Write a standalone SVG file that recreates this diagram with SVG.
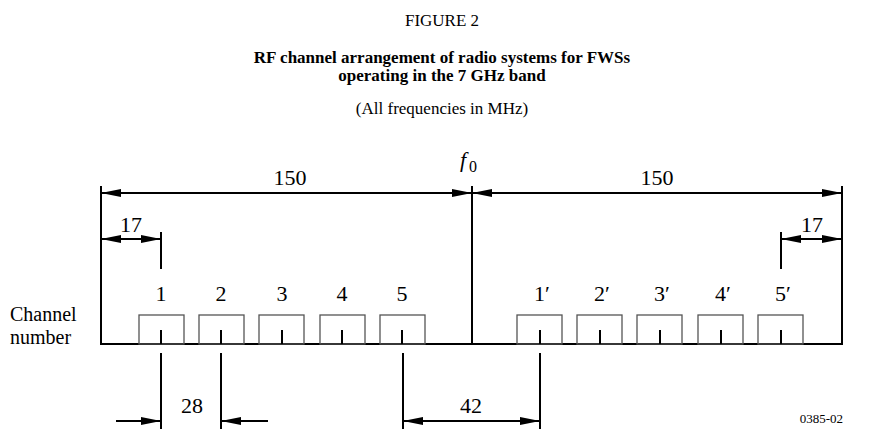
<svg xmlns="http://www.w3.org/2000/svg" width="885" height="429" viewBox="0 0 885 429">
<defs>
<marker id="ah" viewBox="0 0 20 8" refX="20" refY="4" markerWidth="20" markerHeight="8" markerUnits="userSpaceOnUse" orient="auto-start-reverse">
<path d="M0,0 L20,4 L0,8 Z" fill="#000"/>
</marker>
</defs>
<style>
.t{font-family:"Liberation Serif","Times New Roman",serif;fill:#000}
.lbl{font-size:22px;text-anchor:middle}
.ln{stroke:#000;stroke-width:2;fill:none}
.box{stroke:#555;stroke-width:1.3;fill:none}
.dim{stroke:#000;stroke-width:2;fill:none;marker-end:url(#ah)}
.dim2{stroke:#000;stroke-width:2;fill:none;marker-start:url(#ah);marker-end:url(#ah)}
</style>
<rect width="885" height="429" fill="#fff"/>
<g id="title">
<text class="t" x="442" y="26" font-size="17" text-anchor="middle">FIGURE 2</text>
<text class="t" x="442" y="63" font-size="17" font-weight="bold" text-anchor="middle">RF channel arrangement of radio systems for FWSs</text>
<text class="t" x="442" y="81" font-size="17" font-weight="bold" text-anchor="middle">operating in the 7 GHz band</text>
<text class="t" x="442" y="114" font-size="17" text-anchor="middle">(All frequencies in MHz)</text>
</g>
<g id="frame">
<line class="ln" x1="101" y1="186" x2="101" y2="345"/>
<line class="ln" x1="472" y1="186" x2="472" y2="345"/>
<line class="ln" x1="842" y1="186" x2="842" y2="345"/>
<line class="ln" x1="100" y1="344" x2="843" y2="344" stroke-width="2.4"/>
<text class="t" x="10" y="321" font-size="20">Channel</text>
<text class="t" x="10" y="344" font-size="20">number</text>
<text class="t" x="460" y="167" font-size="22" font-style="italic">f</text>
<text class="t" x="469" y="172" font-size="16">0</text>
</g>
<g id="channels-left">
<g id="ch1"><rect class="box" x="139" y="315" width="45" height="29"/><line class="ln" x1="161" y1="330" x2="161" y2="344"/><text class="t lbl" x="161" y="301">1</text></g>
<g id="ch2"><rect class="box" x="199" y="315" width="45" height="29"/><line class="ln" x1="221" y1="330" x2="221" y2="344"/><text class="t lbl" x="221" y="301">2</text></g>
<g id="ch3"><rect class="box" x="259" y="315" width="45" height="29"/><line class="ln" x1="282" y1="330" x2="282" y2="344"/><text class="t lbl" x="282" y="301">3</text></g>
<g id="ch4"><rect class="box" x="320" y="315" width="45" height="29"/><line class="ln" x1="342" y1="330" x2="342" y2="344"/><text class="t lbl" x="342" y="301">4</text></g>
<g id="ch5"><rect class="box" x="380" y="315" width="45" height="29"/><line class="ln" x1="402" y1="330" x2="402" y2="344"/><text class="t lbl" x="402" y="301">5</text></g>
</g>
<g id="channels-right">
<g id="ch1p"><rect class="box" x="517" y="315" width="45" height="29"/><line class="ln" x1="540" y1="330" x2="540" y2="344"/><text class="t lbl" x="542" y="301">1′</text></g>
<g id="ch2p"><rect class="box" x="577" y="315" width="45" height="29"/><line class="ln" x1="600" y1="330" x2="600" y2="344"/><text class="t lbl" x="602" y="301">2′</text></g>
<g id="ch3p"><rect class="box" x="637" y="315" width="45" height="29"/><line class="ln" x1="660" y1="330" x2="660" y2="344"/><text class="t lbl" x="662" y="301">3′</text></g>
<g id="ch4p"><rect class="box" x="698" y="315" width="45" height="29"/><line class="ln" x1="721" y1="330" x2="721" y2="344"/><text class="t lbl" x="723" y="301">4′</text></g>
<g id="ch5p"><rect class="box" x="758" y="315" width="45" height="29"/><line class="ln" x1="781" y1="330" x2="781" y2="344"/><text class="t lbl" x="783" y="301">5′</text></g>
</g>
<g id="connectors">
<line class="dim" x1="286" y1="193" x2="101" y2="193"/>
<line class="dim" x1="286" y1="193" x2="472" y2="193"/>
<line class="dim" x1="657" y1="193" x2="472" y2="193"/>
<line class="dim" x1="657" y1="193" x2="842" y2="193"/>
<text class="t lbl" x="290" y="185">150</text>
<text class="t lbl" x="657" y="185">150</text>
<line class="ln" x1="161" y1="232" x2="161" y2="269"/>
<line class="ln" x1="781" y1="232" x2="781" y2="269"/>
<line class="dim2" x1="101" y1="239" x2="161" y2="239"/>
<line class="dim2" x1="781" y1="239" x2="842" y2="239"/>
<text class="t lbl" x="131" y="232">17</text>
<text class="t lbl" x="812" y="232">17</text>
<line class="ln" x1="161" y1="353" x2="161" y2="429"/>
<line class="ln" x1="221" y1="353" x2="221" y2="429"/>
<line class="ln" x1="403" y1="353" x2="403" y2="429"/>
<line class="ln" x1="540" y1="353" x2="540" y2="429"/>
<line class="dim" x1="116" y1="421" x2="161" y2="421"/>
<line class="dim" x1="268" y1="421" x2="221" y2="421"/>
<line class="dim2" x1="403" y1="421" x2="540" y2="421"/>
<text class="t lbl" x="192" y="413">28</text>
<text class="t lbl" x="471" y="413">42</text>
<text class="t" x="843" y="423" font-size="13" text-anchor="end">0385-02</text>
</g>
</svg>
